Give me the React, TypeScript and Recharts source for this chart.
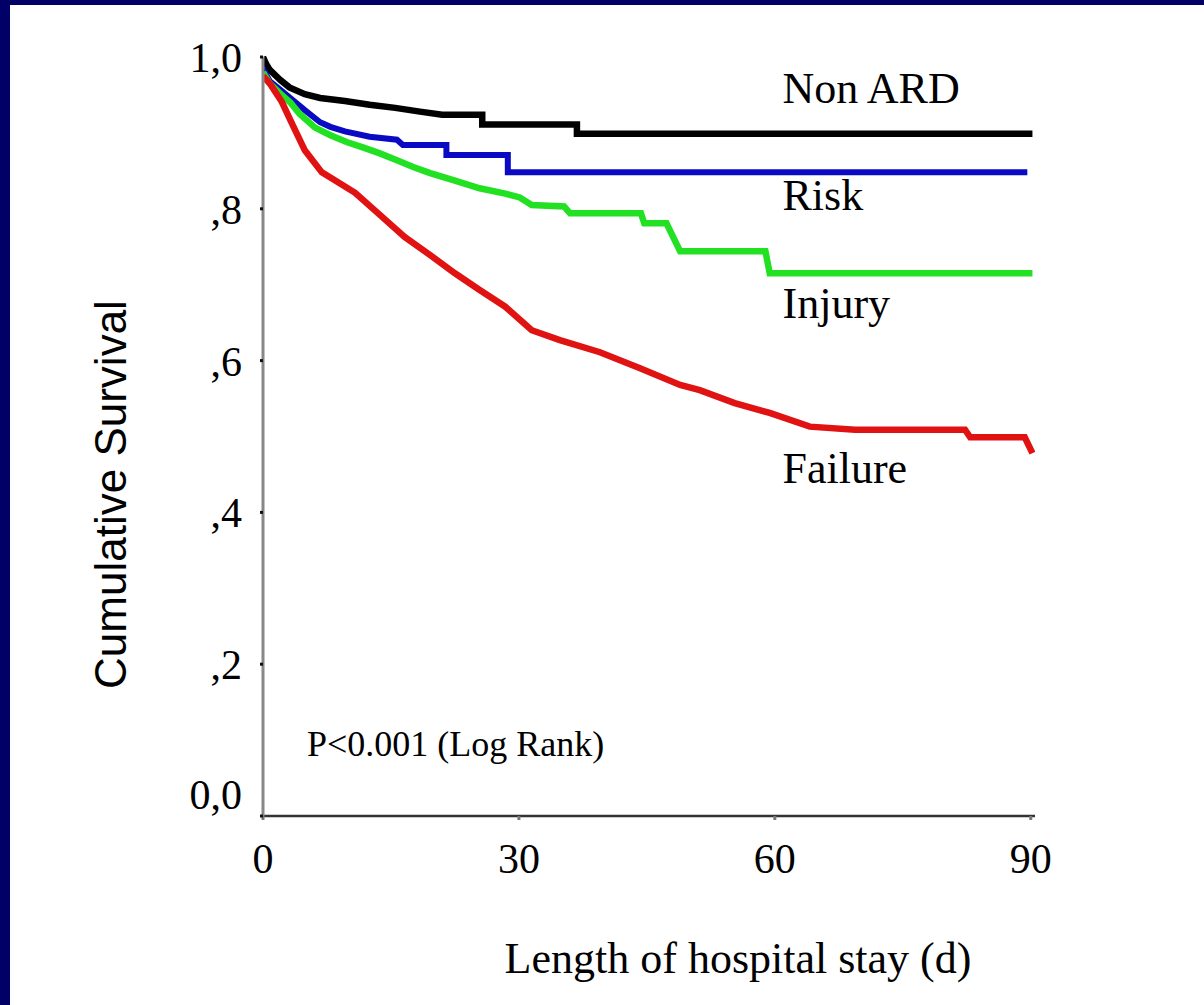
import React from 'react';
import { LineChart, Line, XAxis, YAxis, ReferenceDot } from 'recharts';

// ---- data (day, cumulative survival) ----
const xTicks = [0, 30, 60, 90];
const yTicks = [0, 0.2, 0.4, 0.6, 0.8, 1.0];
const yTickLabels = ['0,0', ',2', ',4', ',6', ',8', '1,0'];

const nonArd: [number, number][] = [
  [0, 1.0], [0.4, 0.99], [0.8, 0.983], [2, 0.97], [3.1, 0.96], [4.9, 0.951], [6.7, 0.946],
  [9.6, 0.942], [12.5, 0.937], [15.5, 0.933], [18.4, 0.928], [21, 0.924], [25.7, 0.924],
  [25.7, 0.911], [36.8, 0.911], [36.8, 0.899], [90.2, 0.899],
];

const risk: [number, number][] = [
  [0, 0.985], [0.8, 0.968], [2, 0.957], [3.2, 0.946], [4.9, 0.93], [6.7, 0.914], [7.9, 0.908],
  [9.6, 0.902], [12.5, 0.895], [15.7, 0.891], [16.4, 0.884], [21.5, 0.884], [21.5, 0.871],
  [28.7, 0.871], [28.7, 0.848], [89.6, 0.848],
];

const injury: [number, number][] = [
  [0, 0.98], [0.8, 0.965], [2, 0.952], [3.2, 0.94], [4.3, 0.925], [6.1, 0.907], [7.9, 0.897],
  [9.8, 0.888], [11.7, 0.881], [13.7, 0.873], [15.7, 0.864], [17.6, 0.855], [19.6, 0.847],
  [22.5, 0.837], [25.4, 0.827], [28.4, 0.82], [30.1, 0.815], [31.5, 0.805], [35.3, 0.803],
  [36, 0.794], [44.3, 0.794], [44.7, 0.781], [47.3, 0.781], [48.9, 0.744], [58.9, 0.744],
  [59.4, 0.715], [90.2, 0.715],
];

const failure: [number, number][] = [
  [0, 0.975], [0.8, 0.965], [2.2, 0.941], [3.5, 0.91], [4.9, 0.877], [6.9, 0.848], [8.8, 0.835],
  [10.8, 0.821], [13.7, 0.792], [16.6, 0.763], [19.6, 0.739], [22.5, 0.715], [25.4, 0.693],
  [28.4, 0.671], [31.5, 0.64], [34.8, 0.627], [39.5, 0.611], [44.2, 0.59], [48.9, 0.568],
  [51.2, 0.561], [55.3, 0.544], [59.4, 0.531], [64.1, 0.513], [69.4, 0.509], [82.3, 0.509],
  [82.9, 0.499], [89.3, 0.499], [90.2, 0.478],
];

const seriesLabels = [
  { text: 'Non ARD', t: 60.9, s: 0.939 },
  { text: 'Risk', t: 60.9, s: 0.798 },
  { text: 'Injury', t: 60.9, s: 0.656 },
  { text: 'Failure', t: 60.9, s: 0.439 },
];
const pNote = { text: 'P<0.001 (Log Rank)', t: 5.16, s: 0.079 };

const toRows = (pts: [number, number][]) => pts.map(([t, s]) => ({ t, s }));

const SERIF = '"Liberation Serif", "Times New Roman", Times, serif';
const SANS = '"Liberation Sans", Arial, Helvetica, sans-serif';

const YTick = (props: any) => {
  const { x, y, payload } = props;
  const idx = yTicks.indexOf(payload.value);
  const label = idx >= 0 ? yTickLabels[idx] : String(payload.value);
  const base = payload.value === 0 ? y - 7 : y + 15;
  return (
    <text x={x - 16} y={base} textAnchor="end" fontFamily={SERIF} fontSize={42} fill="#000">
      {label}
    </text>
  );
};

const XTick = (props: any) => {
  const { x, y, payload } = props;
  return (
    <text x={x} y={y + 51} textAnchor="middle" fontFamily={SERIF} fontSize={42} fill="#000">
      {payload.value}
    </text>
  );
};

export default function App() {
  return (
    <div style={{ position: 'absolute', left: 0, top: 0, width: 1204, height: 1005, background: '#fff', overflow: 'hidden' }}>
      <div style={{ position: 'absolute', left: 0, top: 0, width: 1204, height: 5, background: '#000066' }} />
      <div style={{ position: 'absolute', left: 0, top: 0, width: 10, height: 1005, background: '#000066' }} />
      <LineChart
        width={1204}
        height={1005}
        margin={{ top: 57, right: 169, bottom: 69, left: 60 }}
        style={{ position: 'absolute', left: 0, top: 0 }}
      >
        <XAxis
          type="number"
          dataKey="t"
          domain={[0, 90.5]}
          ticks={xTicks}
          allowDataOverflow
          height={120}
          axisLine={{ stroke: '#333', strokeWidth: 2.5 }}
          tickLine={{ stroke: '#777', strokeWidth: 3 }}
          tickSize={4}
          tick={<XTick />}
          label={{
            content: (p: any) => {
              const vb = p.viewBox || { x: 263, y: 816, width: 772, height: 120 };
              return (
                <text x={vb.x + vb.width / 2 + 89} y={vb.y + 157} textAnchor="middle" fontFamily={SERIF} fontSize={44} fill="#000">
                  Length of hospital stay (d)
                </text>
              );
            },
          }}
        />
        <YAxis
          type="number"
          domain={[0, 1]}
          ticks={yTicks}
          width={203}
          axisLine={{ stroke: '#888', strokeWidth: 3 }}
          tickLine={{ stroke: '#111', strokeWidth: 3 }}
          tickSize={3}
          tick={<YTick />}
          label={{
            content: (p: any) => {
              const vb = p.viewBox || { x: 60, y: 57, width: 203, height: 759 };
              const cx = vb.x + 50;
              const cy = vb.y + vb.height / 2 + 58;
              return (
                <text x={cx} y={cy} transform={`rotate(-90 ${cx} ${cy})`} textAnchor="middle" dominantBaseline="central" fontFamily={SANS} fontSize={44} fill="#000">
                  Cumulative Survival
                </text>
              );
            },
          }}
        />
        <Line data={toRows(nonArd)} dataKey="s" type="linear" stroke="#000000" strokeWidth={6.5} dot={false} activeDot={false} isAnimationActive={false} />
        <Line data={toRows(risk)} dataKey="s" type="linear" stroke="#0a0ac4" strokeWidth={6} dot={false} activeDot={false} isAnimationActive={false} />
        <Line data={toRows(injury)} dataKey="s" type="linear" stroke="#22e022" strokeWidth={6.5} dot={false} activeDot={false} isAnimationActive={false} />
        <Line data={toRows(failure)} dataKey="s" type="linear" stroke="#e01212" strokeWidth={6.5} dot={false} activeDot={false} isAnimationActive={false} />
        {seriesLabels.map((l) => (
          <ReferenceDot
            key={l.text}
            x={l.t}
            y={l.s}
            r={0}
            ifOverflow="visible"
            shape={(p: any) => (
              <text x={p.cx} y={p.cy} textAnchor="start" fontFamily={SERIF} fontSize={44} fill="#000">
                {l.text}
              </text>
            )}
          />
        ))}
        <ReferenceDot
          x={pNote.t}
          y={pNote.s}
          r={0}
          ifOverflow="visible"
          shape={(p: any) => (
            <text x={p.cx} y={p.cy} textAnchor="start" fontFamily={SERIF} fontSize={36} fill="#000">
              {pNote.text}
            </text>
          )}
        />
      </LineChart>
    </div>
  );
}
